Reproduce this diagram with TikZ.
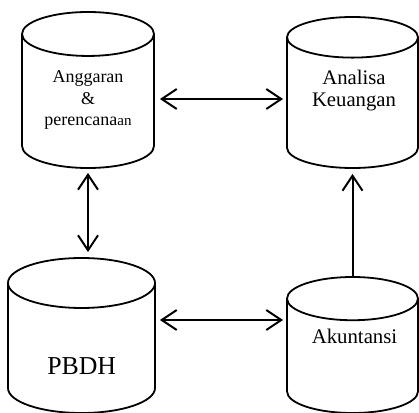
\documentclass[tikz,border=0pt]{standalone}
\usepackage{fontspec}
\setmainfont{Liberation Serif}
\usetikzlibrary{shapes.geometric,arrows.meta}
\tikzset{
  db/.style={draw, line width=1.8pt, cylinder, shape border rotate=90, aspect=0.333, inner sep=0pt, anchor=shape center},
  dbtext/.style={align=center, inner sep=0pt},
  flow/.style={line width=2pt, {Straight Barb[length=15pt,width=20pt]}-{Straight Barb[length=15pt,width=20pt]}},
  oneway/.style={line width=2pt, -{Straight Barb[length=15pt,width=20pt]}}
}
\newcommand{\dbwidth}[1]{\hbox to #1{}}
\begin{document}
\begin{tikzpicture}[x=1pt,y=-1pt]
\useasboundingbox (0,0) rectangle (419,412);
\node[db, minimum height=156pt] (ang) at (88,90) {\dbwidth{132pt}};
\node[db, minimum height=151pt, aspect=0.31] (ana) at (352.5,92.5) {\dbwidth{131pt}};
\node[db, minimum height=155pt, aspect=0.34] (pbdh) at (81.5,335.5) {\dbwidth{147pt}};
\node[db, minimum height=136pt, aspect=0.33] (aku) at (352.5,345) {\dbwidth{131pt}};
\coordinate (row1) at (0,99);
\coordinate (row2) at (0,320);

\node[dbtext, font=\fontsize{18}{21.5}\selectfont] (angT) at (88,100)
{Anggaran\\\&\\perencana{\fontsize{15}{15}\selectfont an}};
\node[dbtext, font=\fontsize{20.7}{22}\selectfont] (anaT) at (354,91)
{Analisa\\Keuangan};
\node[dbtext, font=\fontsize{25.8}{28}\selectfont] (pbdhT) at (81.7,366) {PBDH};
\node[dbtext, font=\fontsize{20.8}{22}\selectfont] (akuT) at (354.5,336) {Akuntansi};

\draw[flow, shorten <=5pt, shorten >=3pt] (ang.east |- row1) -- (ana.west |- row1);
\draw[flow, shorten <=4pt, shorten >=5pt] (ang.south) -- (ang.south |- pbdh.north);
\draw[flow, shorten <=4pt, shorten >=3pt] (pbdh.east |- row2) -- (aku.west |- row2);
\draw[oneway, shorten >=5pt] (aku.north) -- (aku.north |- ana.south);
\end{tikzpicture}
\end{document}
